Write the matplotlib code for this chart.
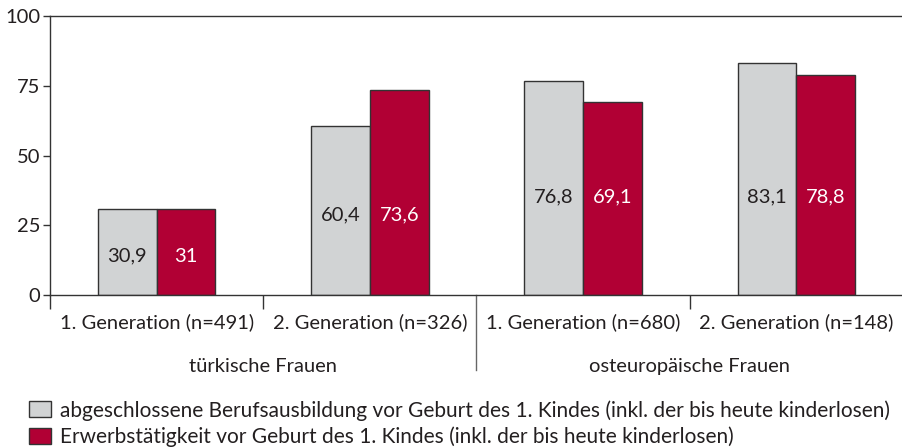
import matplotlib.pyplot as plt
import matplotlib.patches as mpatches
import numpy as np

plt.rcParams["font.family"] = ["Lato", "DejaVu Sans"]

categories = [
    "1. Generation (n=491)", "2. Generation (n=326)",
    "1. Generation (n=680)", "2. Generation (n=148)",
]
groups = ["türkische Frauen", "osteuropäische Frauen"]
ausbildung = [30.9, 60.4, 76.8, 83.1]
erwerb = [31.0, 73.6, 69.1, 78.8]
series_labels = [
    "abgeschlossene Berufsausbildung vor Geburt des 1. Kindes (inkl. der bis heute kinderlosen)",
    "Erwerbstätigkeit vor Geburt des 1. Kindes (inkl. der bis heute kinderlosen)",
]

C_GREY = "#d1d3d4"
C_RED = "#b10034"
C_EDGE = "#333333"
C_TEXT = "#231f20"
FS = 14.5

fig = plt.figure(figsize=(9.03, 4.48), dpi=100)
ax = fig.add_axes([50 / 903, 1 - 295 / 448, 1 - 50 / 903, (295 - 16) / 448])

x = np.arange(len(categories)) + 0.5
w = 0.276
ax.bar(x - w / 2, ausbildung, w, color=C_GREY, edgecolor=C_EDGE, linewidth=1)
ax.bar(x + w / 2, erwerb, w, color=C_RED, edgecolor=C_EDGE, linewidth=1)


def fmt(v):
    return f"{v:g}".replace(".", ",")


for xi, a, e in zip(x, ausbildung, erwerb):
    ya = min(35, a / 2 - 1.5)
    ax.text(xi - w / 2, ya, fmt(a), ha="center", va="center",
            fontsize=FS, color=C_TEXT)
    ax.text(xi + w / 2, ya, fmt(e), ha="center", va="center",
            fontsize=FS, color="white")

ax.set_xlim(0, 4)
ax.set_ylim(0, 100)
ax.set_yticks([0, 25, 50, 75, 100])
ax.tick_params(axis="y", length=5, width=1, color=C_EDGE, labelsize=FS,
               labelcolor=C_TEXT, pad=2)

ax.set_xticks([0, 1, 3])
ax.set_xticklabels([])
ax.tick_params(axis="x", which="major", length=10, width=1, color=C_EDGE)
ax.set_xticks(x, minor=True)
ax.set_xticklabels(categories, minor=True)
ax.tick_params(axis="x", which="minor", length=0, labelsize=FS,
               labelcolor=C_TEXT, pad=13)

# long separator between the two groups
ax.plot([2, 2], [0, -0.27], transform=ax.get_xaxis_transform(),
        color="#666666", linewidth=1, clip_on=False)
for gx, g in zip([1, 3], groups):
    ax.text(gx, -0.255, g, transform=ax.get_xaxis_transform(),
            ha="center", va="center", fontsize=FS, color=C_TEXT)

for s in ["left", "bottom", "top"]:
    ax.spines[s].set_color(C_EDGE)
    ax.spines[s].set_linewidth(1)
ax.spines["right"].set_visible(False)

handles = [
    mpatches.Patch(facecolor=C_GREY, edgecolor=C_EDGE, label=series_labels[0]),
    mpatches.Patch(facecolor=C_RED, edgecolor=C_EDGE, label=series_labels[1]),
]
fig.legend(handles=handles, loc="upper left", bbox_to_anchor=(29 / 903, 1 - 400 / 448),
           frameon=False, fontsize=15, labelcolor=C_TEXT, handlelength=1.05,
           handleheight=0.8, handletextpad=0.45, labelspacing=0.3,
           borderaxespad=0, borderpad=0)

fig.savefig("out.png", dpi=100)
